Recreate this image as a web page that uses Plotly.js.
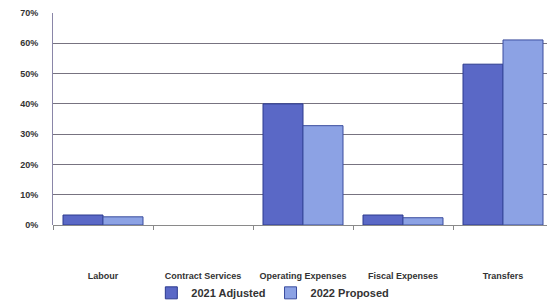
<!DOCTYPE html>
<html>
<head>
<meta charset="utf-8">
<script src="https://cdn.plot.ly/plotly-3.0.1.min.js"></script>
<style>html,body{margin:0;padding:0;background:#fff;}#chart{width:547px;height:303px;}</style>
</head>
<body>
<div id="chart"></div>
<script>
const categories = ["Labour", "Contract Services", "Operating Expenses", "Fiscal Expenses", "Transfers"];
const adjusted2021 = [0.033, 0, 0.400, 0.033, 0.531];
const proposed2022 = [0.027, 0, 0.328, 0.024, 0.611];
const yTickVals = [0, 0.1, 0.2, 0.3, 0.4, 0.5, 0.6, 0.7];
const yTickText = ["0%", "10%", "20%", "30%", "40%", "50%", "60%", "70%"];

const outline = v => v.map(d => (d > 0 ? 1 : 0));

const traces = [
  {type: "bar", name: "2021 Adjusted", x: categories, y: adjusted2021,
   marker: {color: "#5a68c6", line: {color: "#2c3a8e", width: outline(adjusted2021)}}},
  {type: "bar", name: "2022 Proposed", x: categories, y: proposed2022,
   marker: {color: "#8ca2e4", line: {color: "#3a4c9e", width: outline(proposed2022)}}}
];

const layout = {
  width: 547, height: 303,
  margin: {l: 53, r: 0, t: 13, b: 78, autoexpand: false},
  paper_bgcolor: "#ffffff", plot_bgcolor: "#ffffff",
  barmode: "group", bargap: 0.2, bargroupgap: 0,
  showlegend: true,
  legend: {orientation: "h", x: 0.445, xanchor: "center", y: -0.32, yanchor: "middle",
           bgcolor: "rgba(0,0,0,0)",
           font: {family: "Liberation Sans, Arial, sans-serif", size: 11, color: "#333", weight: "bold"},
           tracegroupgap: 0},
  xaxis: {range: [-0.5, 4.44], showgrid: false, showline: false, zeroline: false, automargin: false,
          ticks: "outside", tickson: "boundaries", ticklen: 4, tickcolor: "#888",
          ticklabelstandoff: 44,
          tickfont: {family: "Liberation Sans Narrow, Arial Narrow, Liberation Sans, sans-serif", size: 9, color: "#333", weight: "bold"}},
  yaxis: {range: [0, 0.7], tickvals: yTickVals, ticktext: yTickText, automargin: false,
          showgrid: true, gridcolor: "#777380", gridwidth: 1,
          showline: true, linecolor: "#8a86a8", linewidth: 1,
          zeroline: true, zerolinecolor: "#8a8a8a", zerolinewidth: 1,
          ticks: "", ticklabelstandoff: 12,
          tickfont: {family: "Liberation Sans, Arial, sans-serif", size: 9, color: "#333", weight: "bold"}}
};

Plotly.newPlot("chart", traces, layout, {displayModeBar: false, staticPlot: true});
</script>
</body>
</html>
